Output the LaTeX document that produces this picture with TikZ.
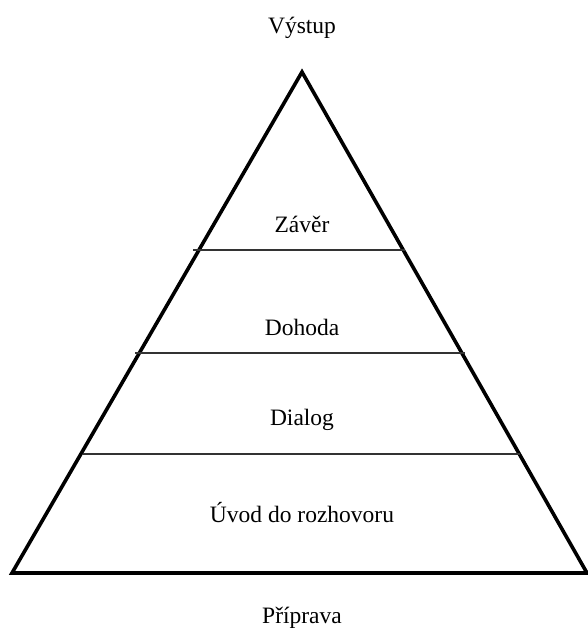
\documentclass[tikz,border=0pt]{standalone}
\usepackage{fontspec}
\setmainfont{Liberation Serif}
\begin{document}
\begin{tikzpicture}[x=1pt,y=-1pt,
  lbl/.style={anchor=base,inner sep=0pt,font=\fontsize{23.5}{26}\selectfont},
  side/.style={line width=3.6pt,line join=miter},
  tier/.style={line width=1.2pt,draw=black!80}]
  \useasboundingbox (0,0) rectangle (588,630);
  % pyramid outline
  \coordinate (top) at (302,72);
  \coordinate (bl) at (12,573);
  \coordinate (br) at (587,573);
  \draw[side] (bl) -- (top) -- (br) -- cycle;
  % tier dividers
  \coordinate (l1) at (193,250); \coordinate (r1) at (405,250);
  \coordinate (l2) at (135,353); \coordinate (r2) at (465,353);
  \coordinate (l3) at (83,454);  \coordinate (r3) at (520,454);
  \draw[tier] (l1) -- (r1);
  \draw[tier] (l2) -- (r2);
  \draw[tier] (l3) -- (r3);
  % labels
  \node[lbl] (out) at (302,33) {Výstup};
  \node[lbl] (t1) at (302,232) {Závěr};
  \node[lbl] (t2) at (302,335) {Dohoda};
  \node[lbl] (t3) at (302,425) {Dialog};
  \node[lbl] (t4) at (302,522) {Úvod do rozhovoru};
  \node[lbl] (in) at (302,623) {Příprava};
\end{tikzpicture}
\end{document}
